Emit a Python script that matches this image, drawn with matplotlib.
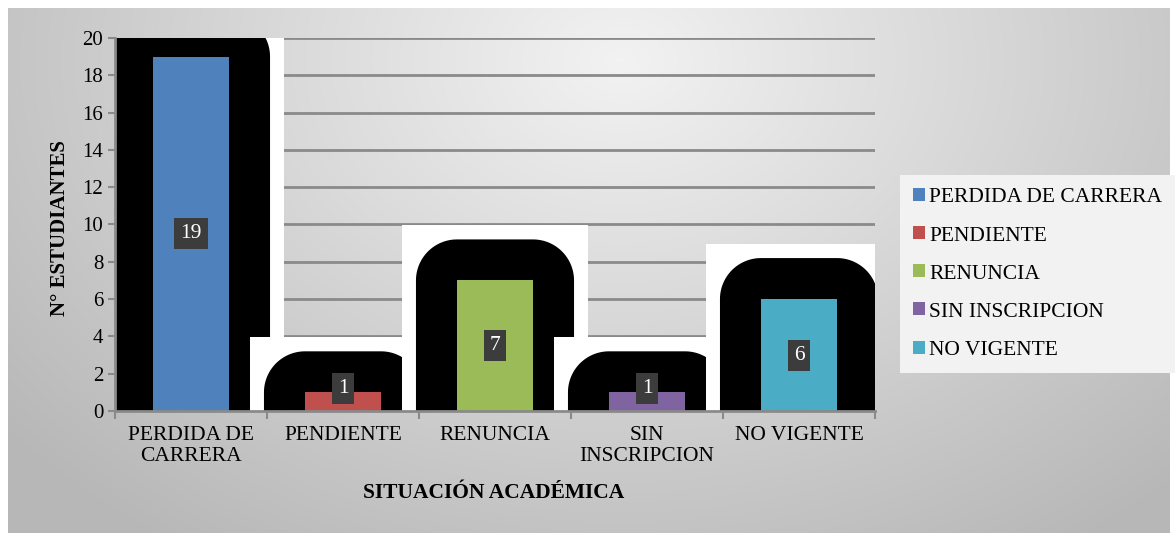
import numpy as np
import matplotlib
matplotlib.use("Agg")
import matplotlib.pyplot as plt
from matplotlib.patches import Rectangle, PathPatch, Patch
from matplotlib.path import Path

categories = ["PERDIDA DE\nCARRERA", "PENDIENTE", "RENUNCIA", "SIN\nINSCRIPCION", "NO VIGENTE"]
legend_labels = ["PERDIDA DE CARRERA", "PENDIENTE", "RENUNCIA", "SIN INSCRIPCION", "NO VIGENTE"]
values = [19, 1, 7, 1, 6]
colors = ["#4F81BD", "#C0504D", "#9BBB59", "#8064A2", "#4BACC6"]
yticks = list(range(0, 21, 2))

plt.rcParams['font.family'] = 'serif'
plt.rcParams['font.serif'] = ['Liberation Serif', 'Times New Roman', 'DejaVu Serif']

W, H = 1175, 533
fig = plt.figure(figsize=(W / 100, H / 100), dpi=100)

# background gradient
bg = fig.add_axes([0, 0, 1, 1])
yy, xx = np.mgrid[0:H, 0:W]
d = np.sqrt(((xx - 620) / 760.0) ** 2 + ((yy - 60) / 560.0) ** 2)
g = np.clip(0.95 - 0.22 * d, 0.72, 0.95)
img = np.dstack([g, g, g])
img[:8, :, :] = 1.0
img[:, :8, :] = 1.0
img[:, 1170:, :] = 1.0
bg.imshow(img, aspect='auto', extent=[0, 1, 0, 1], origin='upper')
bg.axis('off')

ax = fig.add_axes([115 / W, 1 - 411 / H, (875 - 115) / W, (411 - 38) / H])
ax.patch.set_alpha(0)
x = np.arange(len(values))
bw = 0.5
ax.set_xlim(-0.5, len(values) - 0.5)
ax.set_ylim(0, 20)

wx, wy = 0.36, 2.95
rx, ry = 0.27, 2.2
for i, v in enumerate(values):
    x0, x1 = x[i] - bw / 2, x[i] + bw / 2
    ax.add_patch(Rectangle((x0 - wx, 0), (x1 - x0) + 2 * wx, v + wy,
                           facecolor='white', edgecolor='none', zorder=1 + i * 0.02))
    t = np.linspace(np.pi, np.pi / 2, 30)
    left = np.column_stack([x0 + rx * np.cos(t), v + ry * np.sin(t)])
    t2 = np.linspace(np.pi / 2, 0, 30)
    right = np.column_stack([x1 + rx * np.cos(t2), v + ry * np.sin(t2)])
    verts = np.vstack([[x0 - rx, 0], left, right, [x1 + rx, 0], [x0 - rx, 0]])
    ax.add_patch(PathPatch(Path(verts), facecolor='black', edgecolor='none',
                           zorder=1.01 + i * 0.02))

ax.bar(x, values, width=bw, color=colors, zorder=2)

for i, v in enumerate(values):
    ax.text(x[i], max(v / 2, 1.2), str(v), ha='center', va='center', color='white',
            fontsize=15.5, zorder=4,
            bbox=dict(boxstyle='square,pad=0.28', facecolor='#3c3c3c', edgecolor='none'))

ax.set_yticks(yticks)
ax.yaxis.grid(True, color='#8a8a8a', linewidth=2, zorder=0.5)
ax.set_axisbelow(True)
for s in ['top', 'right']:
    ax.spines[s].set_visible(False)
for s in ['left', 'bottom']:
    ax.spines[s].set_color('#8a8a8a')
    ax.spines[s].set_linewidth(2)
    ax.spines[s].set_zorder(5)
ax.tick_params(axis='y', colors='#8a8a8a', labelcolor='black', labelsize=15, length=5, width=1.5)
ax.set_xticks(x)
ax.set_xticklabels(categories, fontsize=15.5, linespacing=1.15)
ax.tick_params(axis='x', length=0, pad=11)
ax.set_xticks(np.arange(-0.5, len(values)), minor=True)
ax.tick_params(axis='x', which='minor', length=6, width=1.5, colors='#8a8a8a')

fig.text(60 / W, 1 - 228 / H, "N° ESTUDIANTES", rotation=90, ha='center', va='center',
         fontsize=15, fontweight='bold')
fig.text(494 / W, 1 - 493 / H, "SITUACIÓN ACADÉMICA", ha='center', va='center',
         fontsize=15.5, fontweight='bold')

handles = [Patch(facecolor=c, edgecolor='none') for c in colors]
leg = fig.legend(handles, legend_labels, loc='center left',
                 bbox_to_anchor=(900 / W, 1 - 274 / H), fontsize=15.5,
                 frameon=True, fancybox=False, handlelength=0.55, handleheight=0.55,
                 handletextpad=0.2, labelspacing=0.88, borderpad=0.6, borderaxespad=0)
leg.get_frame().set_facecolor('#f2f2f2')
leg.get_frame().set_edgecolor('none')
leg.get_frame().set_alpha(1)

fig.savefig("out.png", dpi=100)
